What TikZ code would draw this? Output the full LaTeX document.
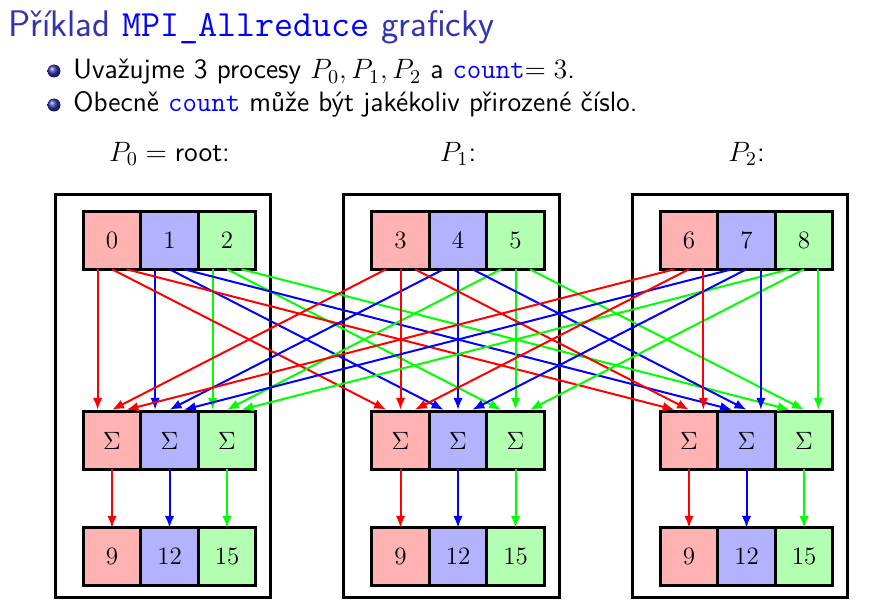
\documentclass[tikz,border=0pt]{standalone}
\usepackage{fix-cm}
\usepackage{tikz}
\usetikzlibrary{positioning, calc, fit, arrows.meta}
\definecolor{structure}{rgb}{0.2,0.2,0.7}

\begin{document}
\begin{tikzpicture}
        [
            x=0.5pt, y=-0.5pt,
            cell/.style={rectangle, draw, line width=1.4pt, minimum size=28.75pt,
                         inner sep=0pt, outer sep=0pt, font=\fontsize{12.5}{15}\selectfont},
            frame/.style={rectangle, draw, line width=1.4pt, inner sep=0pt},
            arr/.style={line width=1pt, -{Latex[length=6pt, width=4.8pt]}},
            bullet/.style={circle, ball color=structure, minimum size=6.5pt, inner sep=0pt},
            txt/.style={anchor=base west, inner sep=0pt, font=\fontsize{14}{16}\sffamily}
        ]
        \useasboundingbox (0,0) rectangle (869,615);
        \node (title) [anchor=base west, inner sep=0pt, text=structure,
                       font=\fontsize{18.5}{22}\sffamily] at (8,37)
              {Příklad {\ttfamily\color{blue}MPI\_Allreduce} graficky};
        \node (d1) [bullet] at (54,71) {};
        \node (t1) [txt] at (73,79)
              {Uvažujme 3 procesy $P_0, P_1, P_2$ a {\ttfamily\color{blue}count}$=3$.};
        \node (d2) [bullet] at (54,105) {};
        \node (t2) [txt] at (73,112)
              {Obecně {\ttfamily\color{blue}count} může být jakékoliv přirozené číslo.};
        \foreach \p/\lab in {0/{$P_0=\mbox{root}$:}, 1/{$P_1$:}, 2/{$P_2$:}} {
            \pgfmathtruncatemacro\na{3*\p}
            \pgfmathtruncatemacro\nb{3*\p+1}
            \pgfmathtruncatemacro\nc{3*\p+2}
            \coordinate (o\p) at (\p*288.5,0);
            \node (a\p0) [cell, fill=red!30] at ($(o\p)+(112,240.5)$) {\na};
            \node (a\p1) [cell, fill=blue!30, right=0pt of a\p0] {\nb};
            \node (a\p2) [cell, fill=green!30, right=0pt of a\p1] {\nc};
            \node (b\p0) [cell, fill=red!30] at ($(o\p)+(112,440.5)$) {$\Sigma$};
            \node (b\p1) [cell, fill=blue!30, right=0pt of b\p0] {$\Sigma$};
            \node (b\p2) [cell, fill=green!30, right=0pt of b\p1] {$\Sigma$};
            \node (c\p0) [cell, fill=red!30] at ($(o\p)+(112,556.5)$) {9};
            \node (c\p1) [cell, fill=blue!30, right=0pt of c\p0] {12};
            \node (c\p2) [cell, fill=green!30, right=0pt of c\p1] {15};
            \coordinate (fa\p) at ($(a\p0.north west)+(-28,-17)$);
            \coordinate (fb\p) at ($(c\p2.south east)+(15,12)$);
            \node (f\p) [frame, fit=(fa\p) (fb\p)] {};
            \node (l\p) [anchor=base, inner sep=0pt, font=\fontsize{14}{16}\sffamily]
                  at ($(a\p1.north)+(0,-50)$) {\lab};
            \foreach \c/\col in {0/red, 1/blue, 2/green}
                \draw [arr, \col] (b\p\c.south) -- (c\p\c.north);
        }
        \foreach \s in {0,1,2}
            \foreach \t in {0,1,2}
                \foreach \c/\col in {0/red, 1/blue, 2/green} {
                    \pgfmathsetmacro\fs{(\t+1)/4}
                    \pgfmathsetmacro\ft{(\s+1)/4}
                    \draw [arr, \col] ($(a\s\c.south west)!\fs!(a\s\c.south east)$)
                          -- ($(b\t\c.north west)!\ft!(b\t\c.north east)+(0,-2)$);
                }
    \end{tikzpicture}
\end{document}
